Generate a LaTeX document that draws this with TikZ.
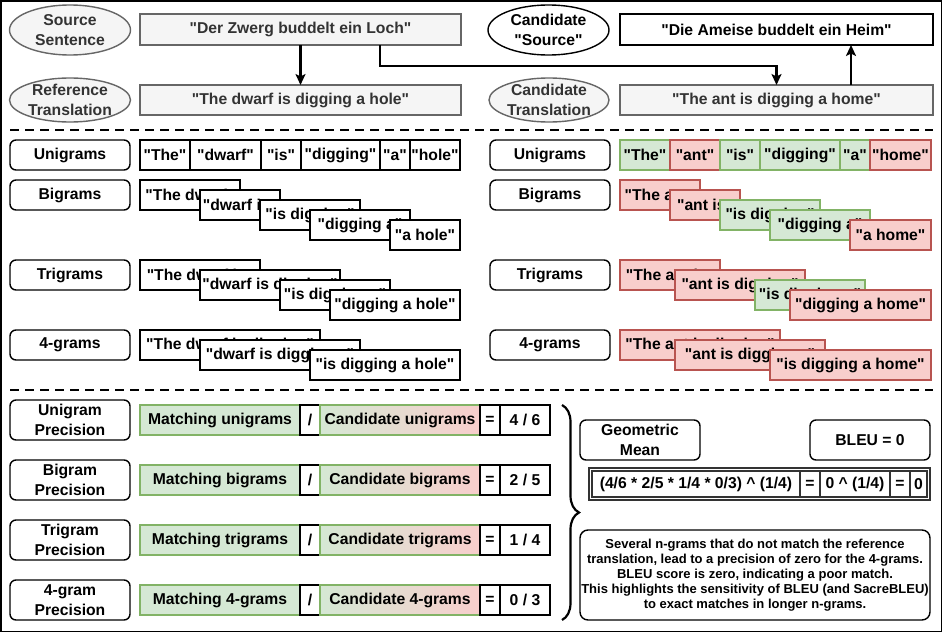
\documentclass[tikz,border=0pt]{standalone}
\usepackage{fontspec}
\setmainfont{Liberation Sans}[Ligatures=TeXOff]
\usetikzlibrary{shapes.geometric,arrows.meta,decorations.pathreplacing}
\definecolor{gfill}{HTML}{F5F5F5}
\definecolor{gline}{HTML}{666666}
\definecolor{gtext}{HTML}{333333}
\definecolor{okfill}{HTML}{D5E8D4}
\definecolor{okline}{HTML}{82B366}
\definecolor{nofill}{HTML}{F8CECC}
\definecolor{noline}{HTML}{B85450}
\newcommand\mybox[7][]{\node[#1,minimum width={(#5-#3)*1pt},minimum height={(#6-#4)*1pt}] (#2) at ({(#3+#5)/2},{(#4+#6)/2}) {#7};}
\tikzset{
 base/.style={inner sep=1pt, outer sep=0pt, line width=1.4pt, font=\bfseries\fontsize{15.7}{19.5}\selectfont, align=center},
 gbox/.style={base, draw=gline, fill=gfill, text=gtext},
 wbox/.style={base, draw=black, fill=white},
 lbl/.style={wbox, rounded corners=6pt},
 ok/.style={base, draw=okline, fill=okfill},
 no/.style={base, draw=noline, fill=nofill},
 grad/.style={base, draw=okline, left color=okfill, right color=nofill},
 gell/.style={base, ellipse, draw=gline, fill=gfill, text=gtext, inner sep=0pt},
 well/.style={base, ellipse, draw=black, fill=white, inner sep=0pt},
 fbox/.style={base, draw=gtext, fill=white},
 arr/.style={line width=2.5pt, -{Stealth[length=11pt,width=10pt,inset=2.5pt]}},
 sepline/.style={line width=2.5pt, dash pattern=on 9pt off 6pt},
 expl/.style={lbl, rounded corners=8pt, font=\bfseries\fontsize{13}{15}\selectfont},
}
\begin{document}
\begin{tikzpicture}[x=1pt,y=-1pt]
\useasboundingbox (0,0) rectangle (942,632);
\draw[line width=1.5pt] (0.75,0.75) rectangle (941.25,631.25);
% top section
\node[gell, minimum width=121pt, minimum height=50pt] (srcl) at (70,30) {Source\\Sentence};
\mybox[gbox]{src}{140}{14}{461}{45}{"Der Zwerg buddelt ein Loch"}
\node[gell, minimum width=121pt, minimum height=44pt] (refl) at (70,100) {Reference\\Translation};
\mybox[gbox]{ref}{140}{85}{461}{115}{"The dwarf is digging a hole"}
\node[well, minimum width=121pt, minimum height=50pt] (csrcl) at (548.5,30) {Candidate\\"Source"};
\mybox[wbox]{csrc}{620}{14}{933}{45}{"Die Ameise buddelt ein Heim"}
\node[gell, minimum width=120pt, minimum height=44pt] (ctrl) at (549,100) {Candidate\\Translation};
\mybox[gbox]{ctr}{620}{85}{933}{115}{"The ant is digging a home"}
\coordinate (k1) at (380,66);
\coordinate (k2) at (851,66);
\draw[arr] (src) -- (ref);
\draw[arr] (src.south -| k1) -- (k1) -| (ctr.north);
\draw[arr] (ctr.north -| k2) -- (csrc.south -| k2);
\coordinate (d1a) at (10,130); \coordinate (d1b) at (933,130);
\coordinate (d2a) at (10,390); \coordinate (d2b) at (933,390);
\draw[sepline] (d1a) -- (d1b);
\draw[sepline] (d2a) -- (d2b);
% n-gram labels
\mybox[lbl]{lu}{10}{140}{130}{170}{Unigrams}
\mybox[lbl]{lb}{10}{180}{130}{210}{Bigrams}
\mybox[lbl]{lt}{10}{260}{130}{290}{Trigrams}
\mybox[lbl]{lf}{10}{330}{130}{360}{4-grams}
\mybox[lbl]{ru}{490}{140}{610}{170}{Unigrams}
\mybox[lbl]{rb}{490}{180}{610}{210}{Bigrams}
\mybox[lbl]{rt}{490}{260}{610}{290}{Trigrams}
\mybox[lbl]{rf}{490}{330}{610}{360}{4-grams}
% reference unigrams
\mybox[wbox]{u1}{140}{140}{190}{170}{"The"}
\mybox[wbox]{u2}{190}{140}{261}{170}{"dwarf"}
\mybox[wbox]{u3}{261}{140}{301}{170}{"is"}
\mybox[wbox]{u4}{301}{140}{380}{170}{"digging"}
\mybox[wbox]{u5}{380}{140}{410}{170}{"a"}
\mybox[wbox]{u6}{410}{140}{460}{170}{"hole"}
% reference bigrams
\mybox[wbox]{b1}{140}{180}{240}{210}{"The dwarf"}
\mybox[wbox]{b2}{200}{190}{280}{220}{"dwarf is"}
\mybox[wbox]{b3}{260}{200}{360}{230}{"is digging"}
\mybox[wbox]{b4}{310}{210}{410}{240}{"digging a"}
\mybox[wbox]{b5}{390}{220}{460}{250}{"a hole"}
% reference trigrams
\mybox[wbox]{t1}{140}{260}{260}{290}{"The dwarf is"}
\mybox[wbox]{t2}{200}{270}{340}{300}{"dwarf is digging"}
\mybox[wbox]{t3}{280}{280}{390}{310}{"is digging a"}
\mybox[wbox]{t4}{330}{290}{460}{320}{"digging a hole"}
% reference 4-grams
\mybox[wbox]{f1}{140}{330}{320}{360}{"The dwarf is digging"}
\mybox[wbox]{f2}{200}{340}{360}{370}{"dwarf is digging a"}
\mybox[wbox]{f3}{310}{350}{460}{380}{"is digging a hole"}
% candidate unigrams
\mybox[ok]{cu1}{620}{140}{670}{170}{"The"}
\mybox[no]{cu2}{670}{140}{720}{170}{"ant"}
\mybox[ok]{cu3}{720}{140}{760}{170}{"is"}
\mybox[ok]{cu4}{760}{140}{840}{170}{"digging"}
\mybox[ok]{cu5}{840}{140}{870}{170}{"a"}
\mybox[no]{cu6}{870}{140}{931}{170}{"home"}
% candidate bigrams
\mybox[no]{cb1}{620}{180}{700}{210}{"The ant"}
\mybox[no]{cb2}{670}{190}{740}{220}{"ant is"}
\mybox[ok]{cb3}{720}{200}{820}{230}{"is digging"}
\mybox[ok]{cb4}{770}{210}{870}{240}{"digging a"}
\mybox[no]{cb5}{850}{220}{931}{250}{"a home"}
% candidate trigrams
\mybox[no]{ct1}{620}{260}{720}{290}{"The ant is"}
\mybox[no]{ct2}{675}{270}{805}{300}{"ant is digging"}
\mybox[ok]{ct3}{755}{280}{865}{310}{"is digging a"}
\mybox[no]{ct4}{790}{290}{931}{320}{"digging a home"}
% candidate 4-grams
\mybox[no]{cf1}{620}{330}{780}{360}{"The ant is digging"}
\mybox[no]{cf2}{675}{340}{825}{370}{"ant is digging a"}
\mybox[no]{cf3}{770}{350}{931}{380}{"is digging a home"}
% precision rows
\mybox[lbl]{p1}{10}{400}{130}{440}{Unigram\\Precision}
\mybox[ok]{m1}{140}{405}{300}{435}{Matching unigrams}
\mybox[wbox]{s1}{300}{405}{320}{435}{/}
\mybox[grad]{c1}{320}{405}{480}{435}{Candidate unigrams}
\mybox[wbox]{e1}{480}{405}{500}{435}{=}
\mybox[wbox]{v1}{500}{405}{550}{435}{4 / 6}
\mybox[lbl]{p2}{10}{460}{130}{500}{Bigram\\Precision}
\mybox[ok]{m2}{140}{465}{300}{495}{Matching bigrams}
\mybox[wbox]{s2}{300}{465}{320}{495}{/}
\mybox[grad]{c2}{320}{465}{480}{495}{Candidate bigrams}
\mybox[wbox]{e2}{480}{465}{500}{495}{=}
\mybox[wbox]{v2}{500}{465}{550}{495}{2 / 5}
\mybox[lbl]{p3}{10}{520}{130}{560}{Trigram\\Precision}
\mybox[ok]{m3}{140}{525}{300}{555}{Matching trigrams}
\mybox[wbox]{s3}{300}{525}{320}{555}{/}
\mybox[grad]{c3}{320}{525}{480}{555}{Candidate trigrams}
\mybox[wbox]{e3}{480}{525}{500}{555}{=}
\mybox[wbox]{v3}{500}{525}{550}{555}{1 / 4}
\mybox[lbl]{p4}{10}{580}{130}{620}{4-gram\\Precision}
\mybox[ok]{m4}{140}{585}{300}{615}{Matching 4-grams}
\mybox[wbox]{s4}{300}{585}{320}{615}{/}
\mybox[grad]{c4}{320}{585}{480}{615}{Candidate 4-grams}
\mybox[wbox]{e4}{480}{585}{500}{615}{=}
\mybox[wbox]{v4}{500}{585}{550}{615}{0 / 3}
% brace
\coordinate (br1) at (562,405);
\coordinate (br2) at (562,620);
\draw[line width=2.2pt, decorate, decoration={brace, amplitude=17pt}] (br1) -- (br2);
% geometric mean
\mybox[lbl]{gm}{580}{420}{700}{460}{Geometric\\Mean}
\mybox[lbl]{bleu}{810}{420}{930}{460}{BLEU = 0}
\mybox[fbox]{frm}{589}{468}{930}{500}{}
\mybox[fbox]{g1}{592}{471}{800}{497}{(4/6 * 2/5 * 1/4 * 0/3) \textasciicircum{} (1/4)}
\mybox[fbox]{g2}{800}{471}{820}{497}{=}
\mybox[fbox]{g3}{820}{471}{890}{497}{0 \textasciicircum{} (1/4)}
\mybox[fbox]{g4}{890}{471}{910}{497}{=}
\mybox[fbox]{g5}{910}{471}{927}{497}{0}
\mybox[expl]{ex}{580}{530}{930}{620}{Several n-grams that do not match the reference\\translation, lead to a precision of zero for the 4-grams.\\BLEU score is zero, indicating a poor match.\\This highlights the sensitivity of BLEU (and SacreBLEU)\\to exact matches in longer n-grams.}
\end{tikzpicture}
\end{document}
